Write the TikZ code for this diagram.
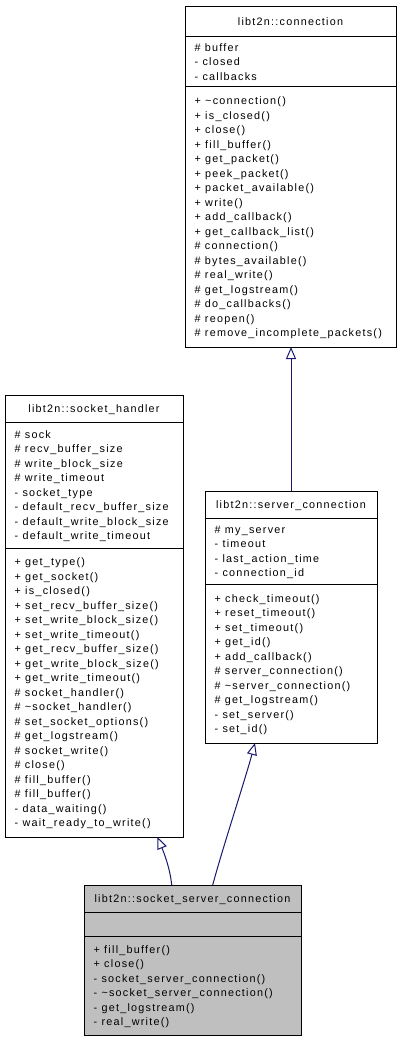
\documentclass[tikz,border=0pt]{standalone}
\usepackage{fontspec}
\setmainfont{Liberation Sans}[LetterSpace=11.5]
\usetikzlibrary{arrows.meta,calc}
\definecolor{midnight}{HTML}{191970}
\definecolor{selgray}{HTML}{BFBFBF}
\tikzset{
  classbox/.style={draw=black, line width=1pt, anchor=north west, inner sep=0pt, outer sep=0pt},
  txt/.style={anchor=base west, inner sep=0pt, font=\fontsize{10.8}{12}\selectfont},
  ttl/.style={anchor=base, inner sep=0pt, font=\fontsize{10.8}{12}\selectfont},
  sepline/.style={line width=1pt},
  inh/.style={draw=midnight, line width=1pt, -{Triangle[open, length=12pt, width=10pt, line width=1pt]}},
}
% #1 prefix, #2 left x, #3 top sep, #4 bottom sep, #5 count, #6 list
\newcommand\classlines[6]{%
  \foreach \t [count=\i] in {#6} {
    \node[txt] (#1\i) at ({#2+9.5}, {(#3+#4)/2 + (\i-1-(#5-1)/2)*14.5 + 3.8}) {\t};
  }}
\begin{document}
\begin{tikzpicture}[x=1pt, y=-1pt]
\fill[white] (0,0) rectangle (401,1040);
\useasboundingbox (0,0) rectangle (401,1040);

% libt2n::connection
\node[classbox, minimum width=211pt, minimum height=340pt] (conn) at (185,7) {};
\draw[sepline] (185,37) -- (396,37);
\draw[sepline] (185,87) -- (396,87);
\node[ttl] (connT) at ({(185+396)/2}, {(7+37)/2+3.8}) {libt2n::connection};
\classlines{connA}{185}{37}{87}{3}{\# buffer, - closed, - callbacks}
\classlines{connM}{185}{87}{347}{17}{+ \textasciitilde connection(), + is\_closed(), + close(), + fill\_buffer(), + get\_packet(), + peek\_packet(), + packet\_available(), + write(), + add\_callback(), + get\_callback\_list(), \# connection(), \# bytes\_available(), \# real\_write(), \# get\_logstream(), \# do\_callbacks(), \# reopen(), \# remove\_incomplete\_packets()}

% libt2n::socket_handler
\node[classbox, minimum width=178pt, minimum height=442pt] (sh) at (5,395) {};
\draw[sepline] (5,422) -- (183,422);
\draw[sepline] (5,548) -- (183,548);
\node[ttl] (shT) at ({(5+183)/2}, {(395+422)/2+3.8}) {libt2n::socket\_handler};
\classlines{shA}{5}{422}{548}{8}{\# sock, \# recv\_buffer\_size, \# write\_block\_size, \# write\_timeout, - socket\_type, - default\_recv\_buffer\_size, - default\_write\_block\_size, - default\_write\_timeout}
\classlines{shM}{5}{548}{837}{19}{+ get\_type(), + get\_socket(), + is\_closed(), + set\_recv\_buffer\_size(), + set\_write\_block\_size(), + set\_write\_timeout(), + get\_recv\_buffer\_size(), + get\_write\_block\_size(), + get\_write\_timeout(), \# socket\_handler(), \# \textasciitilde socket\_handler(), \# set\_socket\_options(), \# get\_logstream(), \# socket\_write(), \# close(), \# fill\_buffer(), \# fill\_buffer(), - data\_waiting(), - wait\_ready\_to\_write()}

% libt2n::server_connection
\node[classbox, minimum width=172pt, minimum height=252pt] (srv) at (205,491) {};
\draw[sepline] (205,518) -- (377,518);
\draw[sepline] (205,584) -- (377,584);
\node[ttl] (srvT) at ({(205+377)/2}, {(491+518)/2+3.8}) {libt2n::server\_connection};
\classlines{srvA}{205}{518}{584}{4}{\# my\_server, - timeout, - last\_action\_time, - connection\_id}
\classlines{srvM}{205}{584}{743}{10}{+ check\_timeout(), + reset\_timeout(), + set\_timeout(), + get\_id(), + add\_callback(), \# server\_connection(), \# \textasciitilde server\_connection(), \# get\_logstream(), - set\_server(), - set\_id()}

% libt2n::socket_server_connection
\node[classbox, fill=selgray, minimum width=217pt, minimum height=150pt] (ssc) at (84,885) {};
\draw[sepline] (84,912) -- (301,912);
\draw[sepline] (84,936) -- (301,936);
\node[ttl] (sscT) at ({(84+301)/2}, {(885+912)/2+3.8}) {libt2n::socket\_server\_connection};
\classlines{sscM}{84}{936}{1035}{6}{+ fill\_buffer(), + close(), - socket\_server\_connection(), - \textasciitilde socket\_server\_connection(), - get\_logstream(), - real\_write()}

% inheritance connectors
\coordinate (a1s) at ($(ssc.north west)+(87.7,0)$);
\coordinate (a1e) at ($(sh.south west)+(152.5,0)$);
\coordinate (a2s) at ($(ssc.north west)+(128.7,0)$);
\coordinate (a2e) at ($(srv.south west)+(50,0)$);
\draw[inh] (a1s) .. controls (170,868) and (164,853) .. (a1e);
\draw[inh] (a2s) .. controls (222,850) and (245,780) .. (a2e);
\draw[inh] (srv.north) -- (srv.north |- conn.south);
\end{tikzpicture}
\end{document}
